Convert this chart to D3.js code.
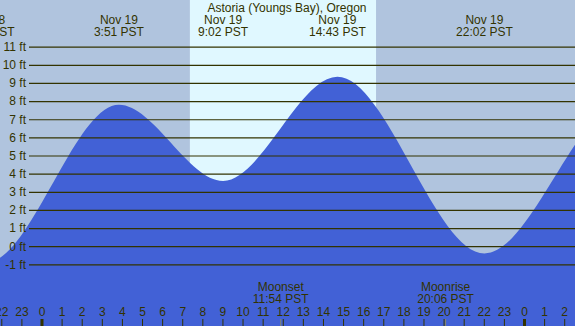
<!DOCTYPE html>
<html>
<head>
<meta charset="utf-8">
<script src="https://cdn.jsdelivr.net/npm/d3@7"></script>
<style>
  body { margin: 0; }
  svg { display: block; font-family: "Liberation Sans", Arial, sans-serif; }
</style>
</head>
<body>
<div id="chart"></div>
<script>
// tide extrema (hours from Nov 19 00:00 PST) and heights in ft
// first and last ones lie outside the window, they only shape the curve
const tideHours = [-9.0, -2.75, 3.85, 9.033, 14.717, 22.033, 29.0, 35.3];
const tideFeet  = [8.6, -0.9, 7.8, 3.6, 9.35, -0.4, 8.0, 3.2];
const tideDates = ["Nov 18", "Nov 18", "Nov 19", "Nov 19", "Nov 19", "Nov 19", "Nov 20", "Nov 20"];
const tideTimes = ["15:00 PST", "21:15 PST", "3:51 PST", "9:02 PST", "14:43 PST", "22:02 PST", "5:00 PST", "11:18 PST"];

const sunrise = 7.38, sunset = 16.64;

const moonHours = [11.9, 20.1];
const moonNames = ["Moonset", "Moonrise"];
const moonTimes = ["11:54 PST", "20:06 PST"];

const feetTicks = [-1, 0, 1, 2, 3, 4, 5, 6, 7, 8, 9, 10, 11];
const hourTicks = d3.range(-2, 27);

const title = "Astoria (Youngs Bay), Oregon";

const width = 575, height = 326;
const ink = "#333300";

const svg = d3.select("#chart").append("svg")
  .attr("width", width)
  .attr("height", height);

const x = d3.scaleLinear().domain([0, 24]).range([41.5, 524]);
const y = d3.scaleLinear().domain([0, 11]).range([246.2, 46.7]);

// night background
svg.append("rect")
  .attr("width", width).attr("height", height)
  .attr("fill", "#b0c4de");

// daylight
svg.append("rect")
  .attr("x", x(sunrise)).attr("y", 0)
  .attr("width", x(sunset) - x(sunrise)).attr("height", height)
  .attr("fill", "#e0f8ff");

// tide
const pts = tideHours.map((h, i) => [h, tideFeet[i]]);
const area = d3.area()
  .x(d => x(d[0]))
  .y0(height)
  .y1(d => y(d[1]))
  .curve(d3.curveMonotoneX);

svg.append("path")
  .datum(pts)
  .attr("d", area)
  .attr("fill", "#4261d6");

// grid + feet labels
const yAxis = d3.axisLeft(y)
  .tickValues(feetTicks)
  .tickSize(-(width - 29))
  .tickPadding(3)
  .tickFormat(d => d + " ft");

const gy = svg.append("g")
  .attr("transform", "translate(29,0)")
  .call(yAxis);
gy.select(".domain").remove();
gy.selectAll("line").attr("stroke", ink).attr("stroke-width", 1.2);
gy.selectAll("text")
  .attr("fill", ink)
  .style("font-size", "12px")
  .style("font-family", "Liberation Sans, Arial, sans-serif");

// hour axis along the bottom
const xAxis = d3.axisTop(x)
  .tickValues(hourTicks)
  .tickSize(7)
  .tickPadding(3)
  .tickFormat(h => (h + 24) % 24);

const gx = svg.append("g")
  .attr("transform", `translate(0,${height})`)
  .call(xAxis);
gx.select(".domain").remove();
gx.selectAll("line")
  .attr("stroke", ink)
  .attr("stroke-width", h => h % 24 === 0 ? 3 : 1);
gx.selectAll("text")
  .attr("fill", ink)
  .style("font-size", "12px")
  .style("font-family", "Liberation Sans, Arial, sans-serif");

// moon ticks and labels
moonHours.forEach((h, i) => {
  svg.append("line")
    .attr("x1", x(h)).attr("x2", x(h))
    .attr("y1", height - 7).attr("y2", height)
    .attr("stroke", "#888866").attr("stroke-width", 1);
  svg.append("text")
    .attr("x", x(h)).attr("y", 291)
    .attr("text-anchor", "middle")
    .attr("fill", ink).style("font-size", "12px")
    .text(moonNames[i]);
  svg.append("text")
    .attr("x", x(h)).attr("y", 303)
    .attr("text-anchor", "middle")
    .attr("fill", ink).style("font-size", "12px")
    .text(moonTimes[i]);
});

// tide event labels along the top (only the ones that reach the window)
tideHours.forEach((h, i) => {
  if (x(h) < -40 || x(h) > width + 40) return;
  svg.append("text")
    .attr("x", x(h)).attr("y", 24)
    .attr("text-anchor", "middle")
    .attr("fill", ink).style("font-size", "12px")
    .text(tideDates[i]);
  svg.append("text")
    .attr("x", x(h)).attr("y", 36)
    .attr("text-anchor", "middle")
    .attr("fill", ink).style("font-size", "12px")
    .text(tideTimes[i]);
});

svg.append("text")
  .attr("x", 287).attr("y", 12)
  .attr("text-anchor", "middle")
  .attr("fill", ink).style("font-size", "12px")
  .text(title);
</script>
</body>
</html>
